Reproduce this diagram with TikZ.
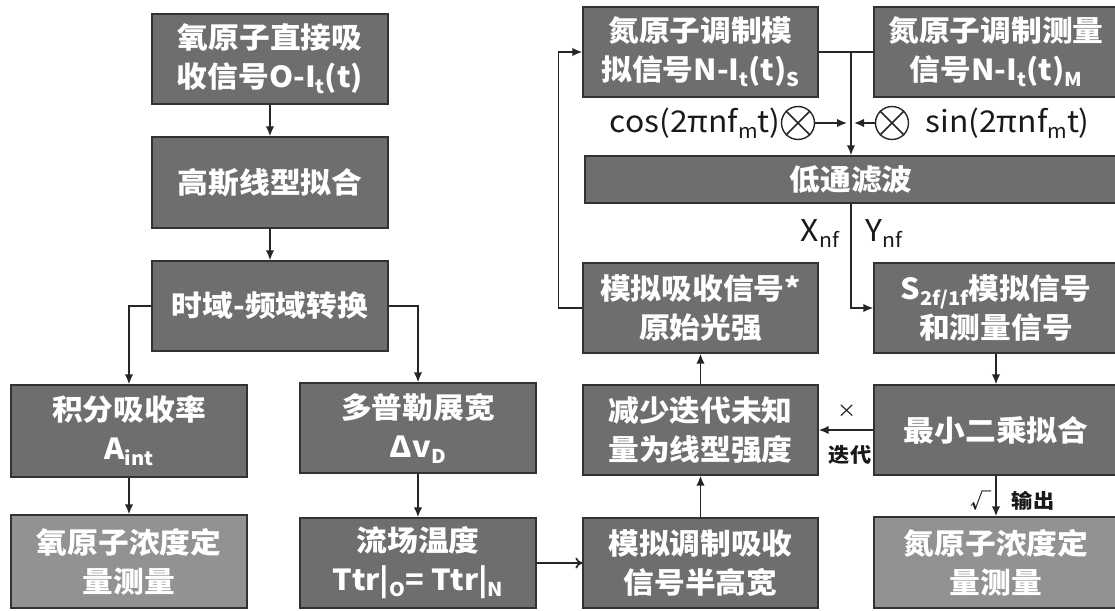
\documentclass[tikz,border=0pt]{standalone}
\usepackage{fontspec}
\setmainfont{Noto Sans CJK SC}[FakeStretch=1.06]
\usetikzlibrary{arrows.meta}
\definecolor{boxfill}{RGB}{110,110,110}
\definecolor{lightfill}{RGB}{146,146,146}
\definecolor{boxline}{RGB}{50,50,50}
\newcommand\mysubb[1]{\raisebox{-6pt}{\fontsize{19}{19}\selectfont #1}}
\newcommand\mysubl[1]{\raisebox{-6pt}{\fontsize{20}{20}\selectfont #1}}
\begin{document}
\begin{tikzpicture}[x=1pt,y=-1pt,
  box/.style={draw=boxline, fill=boxfill, line width=1.3pt, text=white,
    font=\fontsize{29}{39}\selectfont\bfseries, align=center, inner sep=0pt},
  lbox/.style={box, fill=lightfill},
  conn/.style={line width=1.7pt, draw=black!85},
  arr/.style={conn, -{Latex[length=10pt,width=8.5pt]}},
  oarr/.style={conn, -{To[length=7pt,width=11pt]}},
  lab/.style={font=\fontsize{30}{33}\selectfont, inner sep=0pt, text=black!90},
  slab/.style={font=\fontsize{20}{22}\selectfont\bfseries, inner sep=0pt, text=black!90},
  mix/.style={circle, draw=black!85, line width=1.4pt, minimum size=33pt, inner sep=0pt},
]
\useasboundingbox (0,0) rectangle (1115,610);
% left column
\node[box, minimum width=236pt, minimum height=90pt] (o1) at (270,59) {氧原子直接吸\\收信号O-I\mysubb{t}(t)};
\node[box, minimum width=236pt, minimum height=91pt] (o2) at (270,182.5) {高斯线型拟合};
\node[box, minimum width=236pt, minimum height=90pt] (o3) at (270,306) {时域-频域转换};
\node[box, minimum width=236pt, minimum height=92pt] (a) at (129,431) {积分吸收率\\A\mysubb{int}};
\node[box, minimum width=236pt, minimum height=90pt] (d) at (418,428) {多普勒展宽\\Δv\mysubb{D}};
\node[lbox, minimum width=236pt, minimum height=93pt] (oc) at (129,561.5) {氧原子浓度定\\量测量};
\node[box, minimum width=236pt, minimum height=90pt] (ttr) at (418,563) {流场温度\\Ttr|\mysubb{O}= Ttr|\mysubb{N}};
% middle column
\node[box, minimum width=235pt, minimum height=90pt] (nsim) at (700.5,52) {氮原子调制模\\拟信号N-I\mysubb{t}(t)\mysubb{S}};
\node[box, minimum width=235pt, minimum height=90pt] (sim) at (700.5,308) {模拟吸收信号*\\原始光强};
\node[box, minimum width=235pt, minimum height=90pt] (red) at (700.5,430) {减少迭代未知\\量为线型强度};
\node[box, minimum width=235pt, minimum height=90pt] (mod) at (700.5,563) {模拟调制吸收\\信号半高宽};
% right column
\node[box, minimum width=244pt, minimum height=90pt] (nmeas) at (996,52) {氮原子调制测量\\信号N-I\mysubb{t}(t)\mysubb{M}};
\node[box, minimum width=532pt, minimum height=47pt] (lpf) at (851,179.5) {低通滤波};
\node[box, minimum width=244pt, minimum height=90pt] (s) at (996,308) {S\mysubb{2f/1f}模拟信号\\和测量信号};
\node[box, minimum width=244pt, minimum height=90pt] (ls) at (996,430) {最小二乘拟合};
\node[lbox, minimum width=244pt, minimum height=91pt] (nc) at (996,562.5) {氮原子浓度定\\量测量};
% mixers
\node[mix] (cc) at (798,123) {};
\node[mix] (sc) at (892,123) {};
\draw[conn] (cc.north west) -- (cc.south east) (cc.north east) -- (cc.south west);
\draw[conn] (sc.north west) -- (sc.south east) (sc.north east) -- (sc.south west);
\node[lab, anchor=east] (cosl) at ([xshift=0pt]cc.west) {cos(2πnf\mysubl{m}t)};
\node[lab, anchor=west] (sinl) at ([xshift=16pt]sc.east) {sin(2πnf\mysubl{m}t)};
% connectors left
\draw[arr] (o1) -- (o2);
\draw[arr] (o2) -- (o3);
\draw[arr] (o3.west) -| (a.north);
\draw[arr] (o3.east) -| (d.north);
\draw[arr] (a) -- (oc);
\draw[arr] (d) -- (ttr);
\draw[oarr] (ttr.east) -- (ttr.east -| mod.west);
% middle
\draw[arr] (mod) -- (red);
\draw[arr] (red) -- (sim);
\draw[arr] (sim.west) -- ++(-24,0) |- (nsim.west);
\draw[conn] (nsim.east) -- (nmeas.west);
\coordinate (j) at (lpf.north |- nsim.east);
\coordinate (mc) at (lpf.north |- cc.east);
\draw[arr] (j) -- (lpf.north);
\draw[arr] (cc.east) -- ([xshift=-4pt]mc);
\draw[arr] (sc.west) -- ([xshift=3pt]mc);
\draw[arr] (lpf.south) |- (s.west);
\node[lab] (xnf) at (820,234) {X\mysubl{nf}};
\node[lab] (ynf) at (884,234) {Y\mysubl{nf}};
% right
\draw[arr] (s) -- (ls);
\draw[arr] (ls.west) -- (red.east);
\node[slab, font=\fontsize{18}{20}\selectfont] (x) at (847,411) {×};
\node[slab] (it) at (850,455) {迭代};
\draw[arr] (ls) -- (nc);
\node[slab] (ok) at (981,501) {√};
\node[slab] (out) at (1033,501) {输出};
\end{tikzpicture}
\end{document}
